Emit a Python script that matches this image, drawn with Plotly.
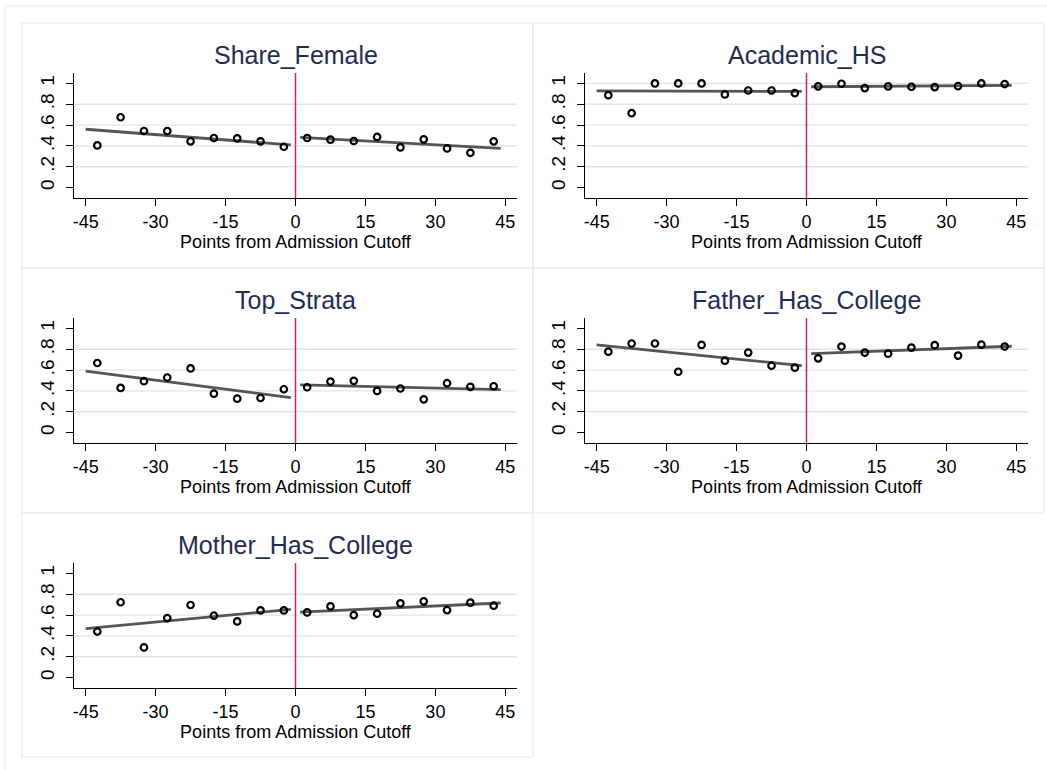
import plotly.graph_objects as go

# ---------------- data ----------------
bins_left = [-42.5, -37.5, -32.5, -27.5, -22.5, -17.5, -12.5, -7.5, -2.5]
bins_right = [2.5, 7.5, 12.5, 17.5, 22.5, 27.5, 32.5, 37.5, 42.5]
fit_x_left = [-45, -1]
fit_x_right = [1, 44]
cutoff = 0

titles = ["Share_Female", "Academic_HS", "Top_Strata",
          "Father_Has_College", "Mother_Has_College"]

share_female_left = [0.405, 0.675, 0.543, 0.543, 0.444, 0.476, 0.473, 0.444, 0.392]
share_female_right = [0.476, 0.460, 0.447, 0.486, 0.386, 0.463, 0.376, 0.334, 0.444]
share_female_fit_left = [0.560, 0.410]
share_female_fit_right = [0.482, 0.376]

academic_hs_left = [0.887, 0.714, 1.000, 1.000, 1.000, 0.894, 0.932, 0.932, 0.907]
academic_hs_right = [0.971, 0.997, 0.955, 0.971, 0.968, 0.965, 0.974, 1.000, 0.994]
academic_hs_fit_left = [0.929, 0.923]
academic_hs_fit_right = [0.968, 0.981]

top_strata_left = [0.668, 0.429, 0.494, 0.529, 0.616, 0.374, 0.326, 0.332, 0.416]
top_strata_right = [0.435, 0.490, 0.497, 0.400, 0.423, 0.319, 0.474, 0.439, 0.445]
top_strata_fit_left = [0.590, 0.335]
top_strata_fit_right = [0.458, 0.413]

father_left = [0.777, 0.855, 0.855, 0.584, 0.842, 0.690, 0.768, 0.642, 0.623]
father_right = [0.713, 0.826, 0.768, 0.758, 0.816, 0.839, 0.739, 0.845, 0.826]
father_fit_left = [0.842, 0.642]
father_fit_right = [0.758, 0.829]

mother_left = [0.442, 0.723, 0.290, 0.571, 0.697, 0.594, 0.539, 0.645, 0.645]
mother_right = [0.626, 0.684, 0.600, 0.613, 0.713, 0.732, 0.648, 0.719, 0.690]
mother_fit_left = [0.471, 0.655]
mother_fit_right = [0.629, 0.716]

y_tickvals = [0, 0.2, 0.4, 0.6, 0.8, 1]
y_ticktext = ["0", ".2", ".4", ".6", ".8", "1"]
x_tickvals = [-45, -30, -15, 0, 15, 30, 45]
x_ticktext = ["-45", "-30", "-15", "0", "15", "30", "45"]
x_title = "Points from Admission Cutoff"

panels = [
    (share_female_left, share_female_right, share_female_fit_left, share_female_fit_right, [0.2, 0.4, 0.6, 0.8]),
    (academic_hs_left, academic_hs_right, academic_hs_fit_left, academic_hs_fit_right, [0.2, 0.4, 0.6, 0.8, 1]),
    (top_strata_left, top_strata_right, top_strata_fit_left, top_strata_fit_right, [0.2, 0.4, 0.6, 0.8]),
    (father_left, father_right, father_fit_left, father_fit_right, [0.2, 0.4, 0.6, 0.8]),
    (mother_left, mother_right, mother_fit_left, mother_fit_right, [0.2, 0.4, 0.6, 0.8]),
]

# ---------------- layout geometry (pixels) ----------------
W, H = 1047, 770
col_x = [(22, 533), (533, 1044)]
row_y = [(23, 268), (268, 513), (513, 757)]
PL, PR, PT, PB = 52, 16, 50, 175  # plot-area offsets inside a panel

FONT = "Liberation Sans, Arial, sans-serif"
TITLE_COLOR = "#1f2d55"
GRID = "#e3e3e3"
BORDER = "#e4ebef"
FIT = "#555555"
RED = "#c8284a"


def px_x(p):
    return p / W


def px_y(p):
    return 1 - p / H


fig = go.Figure()
shapes = []
annotations = []

# outer frame (partly cropped by the page edge)
shapes.append(dict(type="rect", xref="paper", yref="paper",
                   x0=px_x(5), x1=px_x(1061), y0=px_y(774), y1=px_y(6),
                   line=dict(color=BORDER, width=1.2), layer="below"))

for i, (yl, yr, fl, fr, grids) in enumerate(panels):
    r, c = divmod(i, 2)
    cx0, cx1 = col_x[c]
    ry0, ry1 = row_y[r]
    n = i + 1
    xa = "x" if n == 1 else f"x{n}"
    ya = "y" if n == 1 else f"y{n}"
    xkey = "xaxis" if n == 1 else f"xaxis{n}"
    ykey = "yaxis" if n == 1 else f"yaxis{n}"

    # panel border
    shapes.append(dict(type="rect", xref="paper", yref="paper",
                       x0=px_x(cx0), x1=px_x(cx1), y0=px_y(ry1), y1=px_y(ry0),
                       line=dict(color=BORDER, width=1.2), layer="below"))

    dx0, dx1 = px_x(cx0 + PL), px_x(cx1 - PR)
    dy0, dy1 = px_y(ry0 + PB), px_y(ry0 + PT)

    fig.update_layout({
        xkey: dict(domain=[dx0, dx1], anchor=ya, range=[-47.5, 47.5],
                   tickvals=x_tickvals, ticktext=x_ticktext,
                   showgrid=False, zeroline=False, showline=True,
                   linecolor="black", linewidth=1, ticks="outside",
                   ticklen=7, tickcolor="black", tickwidth=1,
                   tickfont=dict(family=FONT, size=18, color="black"),
                   title=dict(text=x_title, standoff=0,
                              font=dict(family=FONT, size=18, color="black"))),
        ykey: dict(domain=[dy0, dy1], anchor=xa, range=[-0.1, 1.1],
                   tickvals=y_tickvals, ticktext=y_ticktext, tickangle=-90,
                   showgrid=False, zeroline=False, showline=True,
                   linecolor="black", linewidth=1, ticks="outside",
                   ticklen=7, tickcolor="black", tickwidth=1,
                   ticklabelstandoff=4,
                   tickfont=dict(family=FONT, size=19, color="black")),
    })

    # gridlines
    for g in grids:
        shapes.append(dict(type="line", xref=f"{xa} domain", yref=ya,
                           x0=0, x1=1, y0=g, y1=g,
                           line=dict(color=GRID, width=1.3), layer="below"))
    # cutoff line
    shapes.append(dict(type="line", xref=xa, yref=f"{ya} domain",
                       x0=cutoff, x1=cutoff, y0=0, y1=1,
                       line=dict(color=RED, width=1.5), layer="below"))

    # title
    annotations.append(dict(text=titles[i], xref="paper", yref="paper",
                            x=(dx0 + dx1) / 2, y=px_y(ry0 + 32),
                            xanchor="center", yanchor="middle", showarrow=False,
                            font=dict(family=FONT, size=25, color=TITLE_COLOR)))

    # fit lines
    for fx, fy in ((fit_x_left, fl), (fit_x_right, fr)):
        fig.add_trace(go.Scatter(x=fx, y=fy, mode="lines", xaxis=xa, yaxis=ya,
                                 line=dict(color=FIT, width=2.8),
                                 showlegend=False, hoverinfo="skip"))
    # binned means
    for bx, by in ((bins_left, yl), (bins_right, yr)):
        fig.add_trace(go.Scatter(x=bx, y=by, mode="markers", xaxis=xa, yaxis=ya,
                                 marker=dict(symbol="circle-open", size=6.5,
                                             color="black", line=dict(width=2.2, color="black")),
                                 showlegend=False))

fig.update_layout(width=W, height=H, margin=dict(l=0, r=0, t=0, b=0),
                  paper_bgcolor="white", plot_bgcolor="white",
                  shapes=shapes, annotations=annotations, showlegend=False,
                  font=dict(family=FONT))

fig.write_html("out.html", config={"displayModeBar": False},
               post_script="document.body.style.margin='0';document.body.style.overflow='hidden';")
